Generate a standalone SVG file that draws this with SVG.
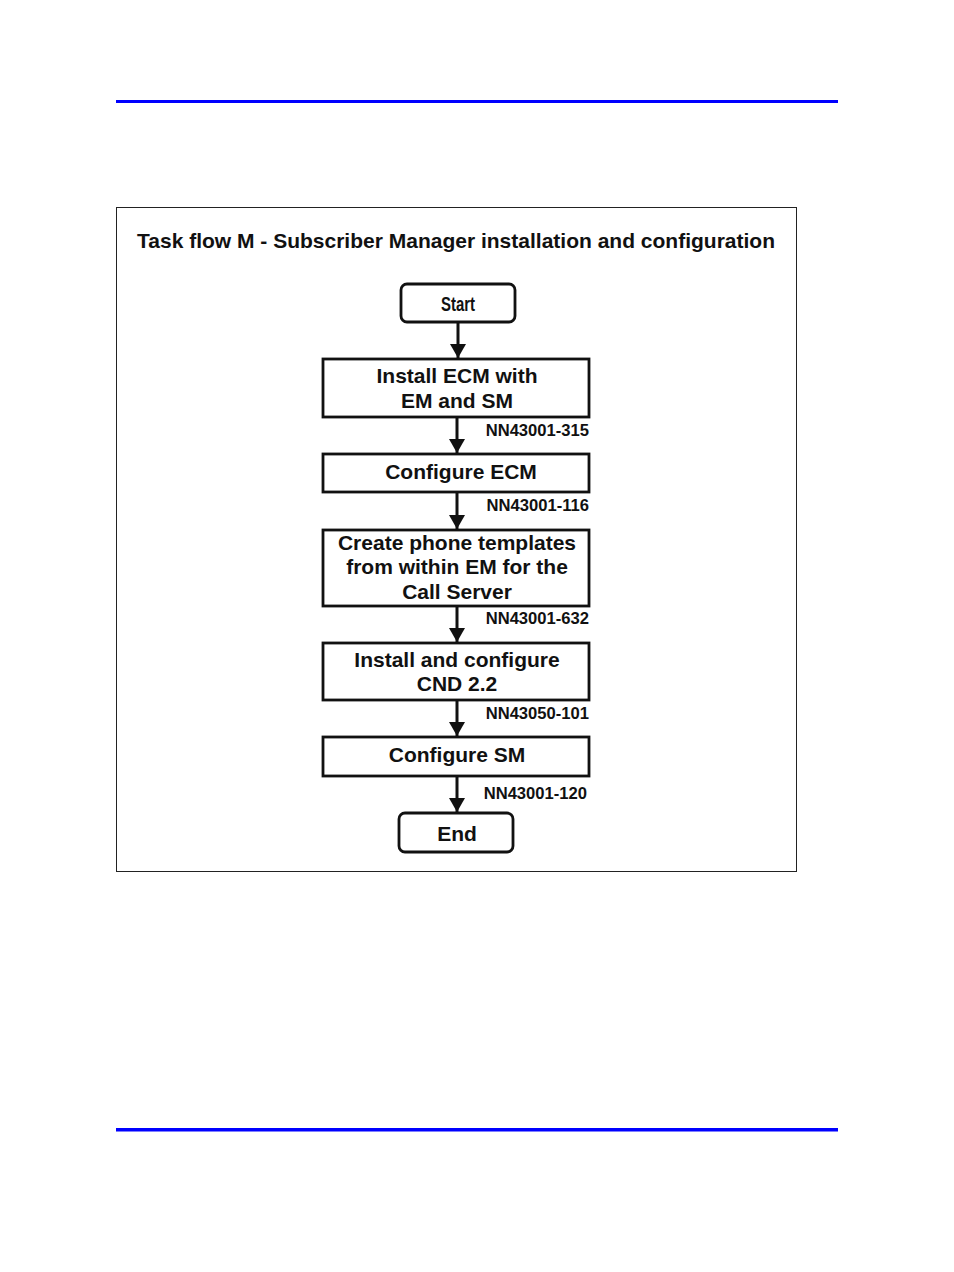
<svg xmlns="http://www.w3.org/2000/svg" width="954" height="1272" viewBox="0 0 954 1272">
<style>
.box{fill:#fff;stroke:#111;stroke-width:2.8}
.t{font-family:"Liberation Sans",Arial,sans-serif;font-weight:bold;font-size:21px;fill:#111;text-anchor:middle}
.lbl{font-family:"Liberation Sans",Arial,sans-serif;font-weight:bold;font-size:16.6px;fill:#111;text-anchor:end}
.ln{stroke:#111;stroke-width:3;fill:none}
</style>
<defs>
<marker id="ah" viewBox="0 0 14 16" refX="14" refY="8" markerWidth="14" markerHeight="16" markerUnits="userSpaceOnUse" orient="auto">
<path d="M0,0 L14,8 L0,16 z" fill="#111"/>
</marker>
</defs>
<rect x="0" y="0" width="954" height="1272" fill="#fff"/>
<rect x="116" y="100" width="722" height="3" fill="#0000ff"/>
<rect x="116" y="1128" width="722" height="3.5" fill="#0000ff"/>
<rect x="116.5" y="207.5" width="680" height="664" fill="none" stroke="#222" stroke-width="1"/>
<text x="456" y="248" font-family="Liberation Sans,Arial,sans-serif" font-size="20.5" fill="#111" text-anchor="middle" textLength="638" lengthAdjust="spacingAndGlyphs" style="font-weight:600">Task flow M - Subscriber Manager installation and configuration</text>
<g id="connectors">
<line class="ln" x1="458" y1="322" x2="458" y2="358" marker-end="url(#ah)"/>
<line class="ln" x1="457" y1="417" x2="457" y2="453" marker-end="url(#ah)"/>
<line class="ln" x1="457" y1="492" x2="457" y2="529" marker-end="url(#ah)"/>
<line class="ln" x1="457" y1="606" x2="457" y2="642" marker-end="url(#ah)"/>
<line class="ln" x1="457" y1="700" x2="457" y2="736" marker-end="url(#ah)"/>
<line class="ln" x1="457" y1="776" x2="457" y2="812" marker-end="url(#ah)"/>
</g>
<g id="start">
<rect class="box" x="401" y="284" width="114" height="38" rx="6"/>
<text class="t" x="458" y="311" style="font-size:20px" textLength="34" lengthAdjust="spacingAndGlyphs">Start</text>
</g>
<g id="n1">
<rect class="box" x="323" y="359" width="266" height="58"/>
<text class="t" x="457" y="383">Install ECM with</text>
<text class="t" x="457" y="408">EM and SM</text>
<text class="lbl" x="589" y="436">NN43001-315</text>
</g>
<g id="n2">
<rect class="box" x="323" y="454" width="266" height="38"/>
<text class="t" x="461" y="479">Configure ECM</text>
<text class="lbl" x="589" y="511">NN43001-116</text>
</g>
<g id="n3">
<rect class="box" x="323" y="530" width="266" height="76"/>
<text class="t" x="457" y="550">Create phone templates</text>
<text class="t" x="457" y="574">from within EM for the</text>
<text class="t" x="457" y="599">Call Server</text>
<text class="lbl" x="589" y="624">NN43001-632</text>
</g>
<g id="n4">
<rect class="box" x="323" y="643" width="266" height="57"/>
<text class="t" x="457" y="667">Install and configure</text>
<text class="t" x="457" y="691">CND 2.2</text>
<text class="lbl" x="589" y="719">NN43050-101</text>
</g>
<g id="n5">
<rect class="box" x="323" y="737" width="266" height="39"/>
<text class="t" x="457" y="762">Configure SM</text>
<text class="lbl" x="587" y="799" style="font-weight:600">NN43001-120</text>
</g>
<g id="end">
<rect class="box" x="399" y="813" width="114" height="39" rx="6"/>
<text class="t" x="457" y="841">End</text>
</g>
</svg>
